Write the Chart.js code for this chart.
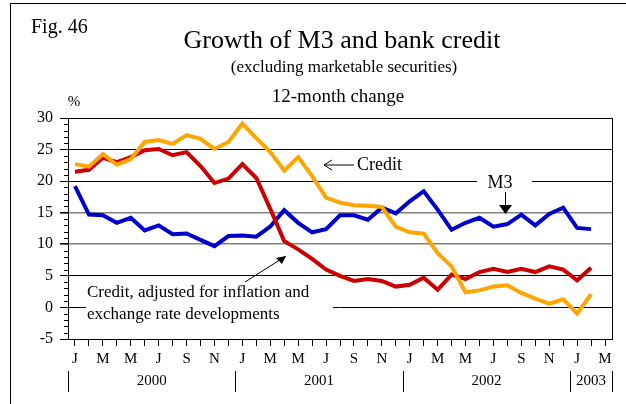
<!DOCTYPE html>
<html>
<head>
<meta charset="utf-8">
<script src="https://cdn.jsdelivr.net/npm/chart.js@4.4.1/dist/chart.umd.min.js"></script>
<style>
  html, body { margin: 0; padding: 0; background: #fff; }
  #wrap { width: 626px; height: 404px; }
</style>
</head>
<body>
<div id="wrap"><canvas id="chart" width="626" height="404"></canvas></div>
<script>
// Months Jan 2000 - Mar 2003 (last slot has no data)
const months = ['J','F','M','A','M','J','J','A','S','O','N','D',
                'J','F','M','A','M','J','J','A','S','O','N','D',
                'J','F','M','A','M','J','J','A','S','O','N','D',
                'J','F','M'];
const years = ['2000', '2001', '2002', '2003'];
const yearStart = [0, 12, 24, 36];

// 12-month change, %
const m3 = [19.2, 14.7, 14.6, 13.4, 14.2, 12.2, 13.0, 11.6, 11.7, 10.7, 9.7, 11.3,
            11.4, 11.2, 12.8, 15.4, 13.4, 11.9, 12.4, 14.6, 14.6, 13.9, 15.8, 14.9,
            16.8, 18.4, 15.5, 12.3, 13.4, 14.2, 12.8, 13.2, 14.7, 13.0, 14.8, 15.8,
            12.6, 12.4];
const credit = [22.7, 22.3, 24.3, 22.6, 23.5, 26.2, 26.5, 25.9, 27.3, 26.7, 25.1, 26.2,
                29.1, 26.8, 24.6, 21.7, 23.8, 20.8, 17.4, 16.6, 16.2, 16.1, 15.9, 12.8,
                11.9, 11.7, 8.6, 6.5, 2.4, 2.7, 3.3, 3.5, 2.3, 1.4, 0.6, 1.3,
                -1.0, 2.1];
const creditAdj = [21.5, 21.8, 23.7, 23.0, 23.8, 24.9, 25.1, 24.1, 24.6, 22.4, 19.7, 20.4,
                   22.7, 20.5, 15.6, 10.5, 9.2, 7.7, 6.0, 5.0, 4.2, 4.5, 4.2, 3.3,
                   3.6, 4.7, 2.8, 5.2, 4.5, 5.6, 6.1, 5.6, 6.1, 5.6, 6.5, 6.0,
                   4.3, 6.3];

const serif = "'Liberation Serif', 'DejaVu Serif', serif";
const colors = { m3: '#0000CC', credit: '#FFA500', adj: '#CC0000' };

function txt(ctx, s, x, y, size, align) {
    ctx.font = size + 'px ' + serif;
    ctx.fillStyle = '#000';
    ctx.textAlign = align || 'center';
    ctx.textBaseline = 'middle';
    ctx.fillText(s, x, y);
}

function line(ctx, x1, y1, x2, y2) {
    ctx.beginPath();
    ctx.moveTo(x1, y1);
    ctx.lineTo(x2, y2);
    ctx.stroke();
}

const decor = {
    id: 'decor',
    beforeDatasetsDraw(chart) {
        const ctx = chart.ctx;
        ctx.save();
        // label box over the zero line
        ctx.fillStyle = '#fff';
        ctx.fillRect(86, 283, 247, 42);
        txt(ctx, 'Credit, adjusted for inflation and', 87, 293, 17, 'left');
        txt(ctx, 'exchange rate developments', 87, 315, 17, 'left');
        // gap in the 20 line for the M3 label
        ctx.fillStyle = '#fff';
        ctx.fillRect(477, 172, 55, 18);
        ctx.restore();
    },
    afterDatasetsDraw(chart) {
        const ctx = chart.ctx;
        ctx.save();
        ctx.strokeStyle = '#000';
        ctx.fillStyle = '#000';
        ctx.lineWidth = 1;
        // Credit label + arrow
        txt(ctx, 'Credit', 357, 165, 18, 'left');
        line(ctx, 324, 165, 354, 165);
        line(ctx, 324, 165, 332, 160);
        line(ctx, 324, 165, 332, 170);
        // M3 label + arrow
        txt(ctx, 'M3', 500, 183, 18);
        line(ctx, 505.5, 192, 505.5, 212);
        ctx.beginPath();
        ctx.moveTo(499, 205);
        ctx.lineTo(512, 205);
        ctx.lineTo(505.5, 214);
        ctx.closePath();
        ctx.fill();
        // arrow to adjusted credit
        line(ctx, 245, 282, 286, 256);
        ctx.beginPath();
        ctx.moveTo(286, 256);
        ctx.lineTo(276, 258);
        ctx.lineTo(282, 264);
        ctx.closePath();
        ctx.fill();
        ctx.restore();
    },
    afterDraw(chart) {
        const ctx = chart.ctx;
        const a = chart.chartArea;
        const x = chart.scales.x;
        const y = chart.scales.y;
        ctx.save();
        ctx.strokeStyle = '#000';
        ctx.lineWidth = 1;
        // outer frame (top and left only)
        line(ctx, 10, 3.5, 626, 3.5);
        line(ctx, 10.5, 3, 10.5, 404);
        // plot frame
        ctx.strokeRect(Math.round(a.left) + 0.5, Math.round(a.top) + 0.5,
                       Math.round(a.right - a.left), Math.round(a.bottom - a.top));
        // minor y ticks
        for (let v = y.min; v <= y.max; v++) {
            if (v % 5 === 0) continue;
            const py = Math.round(y.getPixelForValue(v)) + 0.5;
            line(ctx, a.left - 4, py, a.left, py);
        }
        // year row
        const bounds = yearStart.map(i => i === 0 ? a.left :
            (x.getPixelForValue(i - 1) + x.getPixelForValue(i)) / 2);
        bounds.push(a.right);
        for (let k = 0; k < bounds.length; k++) {
            const bx = Math.round(bounds[k]) + 0.5;
            line(ctx, bx, 371, bx, 392);
        }
        years.forEach((yr, k) => {
            txt(ctx, yr, (bounds[k] + bounds[k + 1]) / 2, 381, 15);
        });
        // titles
        txt(ctx, 'Fig. 46', 31, 28, 20, 'left');
        txt(ctx, 'Growth of M3 and bank credit', 342, 41, 26);
        txt(ctx, '(excluding marketable securities)', 344, 68, 17);
        txt(ctx, '12-month change', 338, 97, 19);
        txt(ctx, '%', 74, 102, 15);
        ctx.restore();
    }
};

new Chart(document.getElementById('chart'), {
    type: 'line',
    data: {
        labels: months,
        datasets: [
            { label: 'Credit', data: credit, borderColor: colors.credit, order: 0 },
            { label: 'Credit, adjusted for inflation and exchange rate developments',
              data: creditAdj, borderColor: colors.adj, order: 1 },
            { label: 'M3', data: m3, borderColor: colors.m3, order: 2 }
        ]
    },
    options: {
        responsive: false,
        animation: false,
        layout: { padding: { top: 118, right: 14, left: 0, bottom: 0 } },
        elements: {
            line: { borderWidth: 4, tension: 0, fill: false },
            point: { radius: 0 }
        },
        plugins: {
            legend: { display: false },
            tooltip: { enabled: false },
            title: { display: false }
        },
        scales: {
            x: {
                offset: true,
                afterFit: function (s) { s.height = 65; },
                border: { color: '#000', width: 1 },
                grid: { drawOnChartArea: false, tickLength: 7, color: '#000', offset: false },
                ticks: {
                    autoSkip: false,
                    maxRotation: 0,
                    padding: 4,
                    color: '#000',
                    font: { family: serif, size: 15 },
                    callback: function (val, i) {
                        return i % 2 === 0 ? this.getLabelForValue(val) : '';
                    }
                }
            },
            y: {
                min: -5,
                max: 30,
                afterFit: function (s) { s.width = 68; },
                border: { color: '#000', width: 1 },
                grid: {
                    tickLength: 8,
                    color: function (c) {
                        const v = c.tick.value;
                        if (v === 30 || v === -5) return 'rgba(0,0,0,0)';
                        return (v === 15 || v === 10) ? '#808080' : '#000';
                    },
                    tickColor: '#000',
                    lineWidth: function (c) {
                        const v = c.tick.value;
                        return (v === 15 || v === 10) ? 1.6 : 1;
                    }
                },
                ticks: {
                    stepSize: 5,
                    padding: 7,
                    color: '#000',
                    font: { family: serif, size: 16 }
                }
            }
        }
    },
    plugins: [decor]
});
</script>
</body>
</html>
